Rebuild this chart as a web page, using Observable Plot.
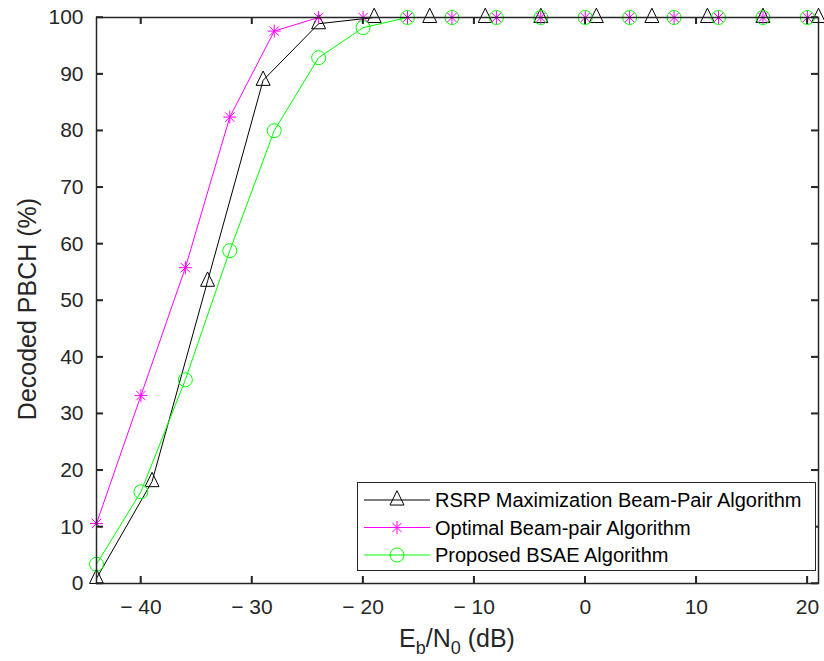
<!DOCTYPE html>
<html><head><meta charset="utf-8">
<script src="https://cdn.jsdelivr.net/npm/d3@7"></script>
<script src="https://cdn.jsdelivr.net/npm/@observablehq/plot@0.6"></script>
<style>
html,body{margin:0;padding:0;background:#fff;}
body{font-family:"Liberation Sans",Arial,sans-serif;}
#wrap{position:relative;width:824px;height:661px;}
#legend{position:absolute;left:357px;top:482px;}
</style></head><body><div id="wrap"></div>
<script>
// ---- data ----
const seriesNames = ["RSRP Maximization Beam-Pair Algorithm", "Optimal Beam-pair Algorithm", "Proposed BSAE Algorithm"];
const seriesColors = ["#000000", "#ff00ff", "#00ff00"];
const rsrpX = [-44, -39, -34, -29, -24, -19, -14, -9, -4, 1, 6, 11, 16, 21];
const rsrpY = [0.9, 18.0, 53.4, 88.9, 98.9, 100, 100, 100, 100, 100, 100, 100, 100, 100];
const optX = [-44, -40, -36, -32, -28, -24, -20, -16, -12, -8, -4, 0, 4, 8, 12, 16, 20];
const optY = [10.6, 33.2, 55.8, 82.4, 97.6, 100, 100, 100, 100, 100, 100, 100, 100, 100, 100, 100, 100];
const propX = [-44, -40, -36, -32, -28, -24, -20, -16, -12, -8, -4, 0, 4, 8, 12, 16, 20];
const propY = [3.4, 16.2, 36.0, 58.8, 80.0, 92.9, 98.2, 100, 100, 100, 100, 100, 100, 100, 100, 100, 100];
const xTicks = [-40, -30, -20, -10, 0, 10, 20];
const yTicks = [0, 10, 20, 30, 40, 50, 60, 70, 80, 90, 100];
const xLabelParts = [["E", ""], ["b", "sub"], ["/N", ""], ["0", "sub"], [" (dB)", ""]];
const yLabel = "Decoded PBCH (%)";

const toRows = (xs, ys) => xs.map((x, i) => ({x, y: ys[i]}));
const rsrp = toRows(rsrpX, rsrpY);
const opt = toRows(optX, optY);
const prop = toRows(propX, propY);

// ---- MATLAB-like marker symbols ----
const triSym = {draw(ctx, size) {
  const r = Math.sqrt(size / Math.PI);
  ctx.moveTo(0, -1.33 * r); ctx.lineTo(r, 0.72 * r); ctx.lineTo(-r, 0.72 * r); ctx.closePath();
}};
const starSym = {draw(ctx, size) {
  const r = Math.sqrt(size / Math.PI), d = r * 0.72;
  ctx.moveTo(0, -r); ctx.lineTo(0, r);
  ctx.moveTo(-r, 0); ctx.lineTo(r, 0);
  ctx.moveTo(-d, -d); ctx.lineTo(d, d);
  ctx.moveTo(-d, d); ctx.lineTo(d, -d);
}};
const circSym = {draw(ctx, size) {
  const r = Math.sqrt(size / Math.PI);
  ctx.moveTo(r, 0); ctx.arc(0, 0, r, 0, 2 * Math.PI);
}};
const symbols = [triSym, starSym, circSym];
const sizes = [7, 6.5, 7];

const fmtX = d => d < 0 ? "\u2212 " + Math.abs(d) : String(d);
const axisColor = "#262626";

// layout
const W = 824, H = 661, mL = 96, mR = 6, mT = 17, mB = 78;
const tickLen = 7;
const frameW = W - mL - mR, frameH = H - mT - mB;

const plot = Plot.plot({
  width: W, height: H,
  marginLeft: mL, marginRight: mR, marginTop: mT, marginBottom: mB,
  style: {fontFamily: "'Liberation Sans', Arial, sans-serif", background: "#fff", color: axisColor},
  x: {domain: [-44, 21]},
  y: {domain: [0, 100]},
  marks: [
    Plot.line(rsrp, {x: "x", y: "y", stroke: seriesColors[0], strokeWidth: 1}),
    Plot.dot(rsrp, {x: "x", y: "y", symbol: symbols[0], r: sizes[0], stroke: seriesColors[0], fill: "none", strokeWidth: 1}),
    Plot.line(opt, {x: "x", y: "y", stroke: seriesColors[1], strokeWidth: 1}),
    Plot.dot(opt, {x: "x", y: "y", symbol: symbols[1], r: sizes[1], stroke: seriesColors[1], fill: "none", strokeWidth: 1}),
    Plot.line(prop, {x: "x", y: "y", stroke: seriesColors[2], strokeWidth: 1}),
    Plot.dot(prop, {x: "x", y: "y", symbol: symbols[2], r: sizes[2], stroke: seriesColors[2], fill: "none", strokeWidth: 1}),
    // inward tick marks on all four sides
    Plot.tickX(xTicks, {x: d => d, insetTop: frameH - tickLen, stroke: axisColor, strokeWidth: 1.5}),
    Plot.tickX(xTicks, {x: d => d, insetBottom: frameH - tickLen, stroke: axisColor, strokeWidth: 1.5}),
    Plot.tickY(yTicks, {y: d => d, insetRight: frameW - tickLen, stroke: axisColor, strokeWidth: 1.5}),
    Plot.tickY(yTicks, {y: d => d, insetLeft: frameW - tickLen, stroke: axisColor, strokeWidth: 1.5}),
    Plot.frame({stroke: axisColor, strokeWidth: 1.5}),
    // tick labels
    Plot.axisX(xTicks, {anchor: "bottom", tickSize: 0, tickPadding: 16, tickFormat: fmtX, fontSize: 21, label: null}),
    Plot.axisY(yTicks, {anchor: "left", tickSize: 0, tickPadding: 13, fontSize: 21, label: null})
  ]
});
document.getElementById("wrap").appendChild(plot);

const svg = d3.select(plot);
const font = "'Liberation Sans', Arial, sans-serif";

// extra tick marks placed with the plot's own scales (ensures visibility)
const sx = plot.scale("x"), sy = plot.scale("y");
if (sx && typeof sx.apply === "function") {
  const tg = svg.append("g").attr("stroke", axisColor).attr("stroke-width", 1.5);
  const y0 = H - mB, y1 = mT, x0 = mL, x1 = W - mR;
  xTicks.forEach(v => {
    const px = sx.apply(v);
    tg.append("line").attr("x1", px).attr("x2", px).attr("y1", y0).attr("y2", y0 - tickLen);
    tg.append("line").attr("x1", px).attr("x2", px).attr("y1", y1).attr("y2", y1 + tickLen);
  });
  yTicks.forEach(v => {
    const py = sy.apply(v);
    tg.append("line").attr("y1", py).attr("y2", py).attr("x1", x0).attr("x2", x0 + tickLen);
    tg.append("line").attr("y1", py).attr("y2", py).attr("x1", x1).attr("x2", x1 - tickLen);
  });
}

// y label
svg.append("text")
  .attr("transform", "translate(36,309) rotate(-90)")
  .attr("text-anchor", "middle")
  .attr("font-size", 25).attr("fill", axisColor).attr("font-family", font)
  .text(yLabel);

// x label with subscripts
const xl = svg.append("text")
  .attr("x", 457).attr("y", 647)
  .attr("text-anchor", "middle")
  .attr("font-size", 25).attr("fill", axisColor).attr("font-family", font);
xLabelParts.forEach(([t, kind], i) => {
  const prev = i > 0 ? xLabelParts[i - 1][1] : "";
  let dy = 0;
  if (kind === "sub" && prev !== "sub") dy = 7;
  if (kind !== "sub" && prev === "sub") dy = -7;
  xl.append("tspan").attr("dy", dy).attr("font-size", kind === "sub" ? 18 : 25).text(t);
});

// legend
const lg = d3.select("#wrap").append("svg").attr("id", "legend")
  .attr("width", 459).attr("height", 89);
lg.append("rect").attr("x", 0.5).attr("y", 0.5).attr("width", 458).attr("height", 88)
  .attr("fill", "#fff").attr("stroke", axisColor).attr("stroke-width", 1);
const rowY = [18, 45.5, 73];
seriesNames.forEach((name, i) => {
  const g = lg.append("g").attr("transform", `translate(0,${rowY[i]})`);
  g.append("line").attr("x1", 7).attr("x2", 73).attr("y1", 0).attr("y2", 0)
    .attr("stroke", seriesColors[i]).attr("stroke-width", 1);
  const r = sizes[i];
  g.append("path").attr("transform", "translate(40,0)")
    .attr("d", d3.symbol(symbols[i], r * r * Math.PI)())
    .attr("fill", "none").attr("stroke", seriesColors[i]).attr("stroke-width", 1);
  g.append("text").attr("x", 78).attr("y", 0).attr("dy", "0.35em")
    .attr("font-size", 20).attr("fill", "#000").attr("font-family", font)
    .text(name);
});
</script></body></html>
